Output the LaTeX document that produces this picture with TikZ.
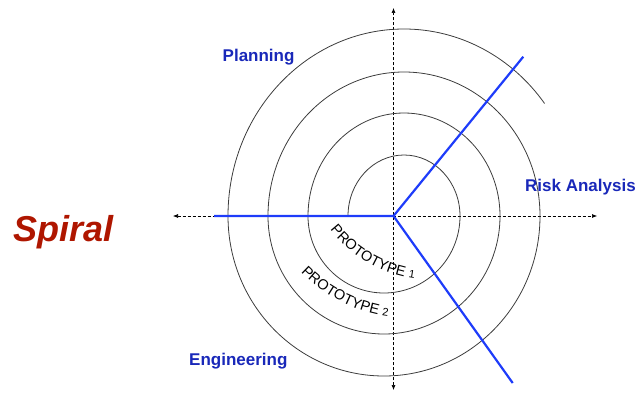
\documentclass[tikz,border=0pt]{standalone}
\usepackage{fontspec}
\setmainfont{Liberation Sans}
\usetikzlibrary{arrows.meta,decorations.text}
\definecolor{lblue}{RGB}{25,40,185}
\definecolor{lineblue}{RGB}{30,60,250}
\definecolor{sred}{RGB}{175,22,0}
\definecolor{spgray}{RGB}{60,60,60}
\begin{document}
\begin{tikzpicture}[x=1pt,y=1pt,
  axisline/.style={draw=black, line width=0.6pt, dash pattern=on 3pt off 2pt,
    {Latex[length=5pt,width=4pt]}-{Latex[length=5pt,width=4pt]}},
  spir/.style={draw=spgray, line width=0.8pt},
  phase/.style={draw=lineblue, line width=2.2pt},
  quad/.style={text=lblue, font=\bfseries\fontsize{17}{17}\selectfont, anchor=base west, inner sep=0pt},
  titlelbl/.style={text=sred, font=\bfseries\itshape\fontsize{36}{36}\selectfont, anchor=base west, inner sep=0pt}
]
\useasboundingbox (0,0) rectangle (636,392);
% axes
\coordinate (O) at (393.5,176);
\coordinate (axL) at (173,176);
\coordinate (axR) at (597,176);
\coordinate (axT) at (393.5,384);
\coordinate (axB) at (393.5,2);
\draw[axisline] (axL) -- (axR);
\draw[axisline] (axB) -- (axT);
% spiral
\draw[spir] (348,176)
  arc[start angle=180, end angle=0, x radius=56, y radius=61]
  arc[start angle=0, end angle=-180, x radius=76, y radius=77]
  arc[start angle=180, end angle=0, x radius=96, y radius=103]
  arc[start angle=0, end angle=-180, x radius=116, y radius=118]
  arc[start angle=180, end angle=0, x radius=136, y radius=144]
  arc[start angle=0, end angle=-180, x radius=156, y radius=160]
  arc[start angle=180, end angle=37, x radius=176, y radius=187];
% phase boundaries
\coordinate (bL) at (214,176);
\coordinate (bU) at (523.3,335.3);
\coordinate (bD) at (512.7,9);
\draw[phase] (bL) -- (O) -- (bU);
\draw[phase] (O) -- (bD);
% prototype labels along arcs
\coordinate (p1c) at (432.5,242.3);
\coordinate (p2c) at (408.8,224.2);
\path[decorate, decoration={text along path, text align=center,
  text={|\fontsize{14.5}{14.5}\selectfont|PROTOTYPE |\fontsize{11}{11}\selectfont|1}}]
  (p1c) ++(-160:130) arc[start angle=-160, end angle=-80, radius=130];
\path[decorate, decoration={text along path, text align=center,
  text={|\fontsize{14.5}{14.5}\selectfont|PROTOTYPE |\fontsize{11}{11}\selectfont|2}}]
  (p2c) ++(-152:150) arc[start angle=-152, end angle=-82, radius=150];
% labels
\node[quad] (plan) at (222.5,330.3) {Planning};
\node[quad] (risk) at (525,200.3) {Risk Analysis};
\node[quad] (eng) at (189,27) {Engineering};
\node[titlelbl] (sp) at (13,151) {Spiral};
\end{tikzpicture}
\end{document}
